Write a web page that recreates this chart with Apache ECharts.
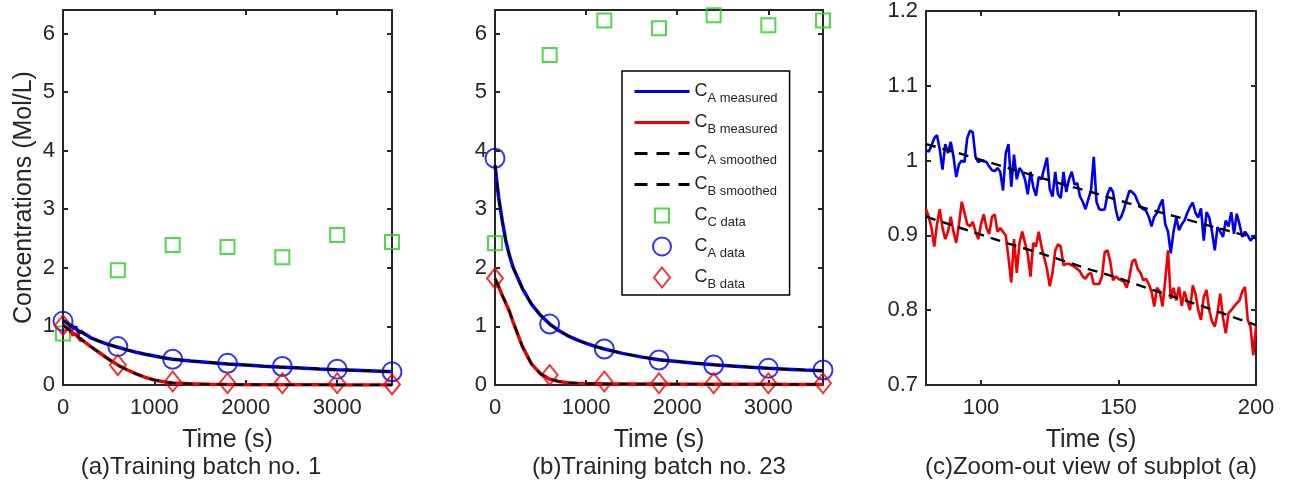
<!DOCTYPE html>
<html><head><meta charset="utf-8">
<script src="https://cdn.jsdelivr.net/npm/echarts@6/dist/echarts.min.js"></script>
<style>html,body{margin:0;padding:0;background:#fff}#c{width:1298px;height:488px}</style>
</head><body><div id="c"></div>
<script>
// ---- sample (marker) times ----
const tData = [0, 600, 1200, 1800, 2400, 3000, 3600];
// panel (a) markers
const ccDataA = [0.88, 1.96, 2.39, 2.355, 2.18, 2.56, 2.44];
const caDataA = [1.09, 0.655, 0.44, 0.37, 0.315, 0.27, 0.225];
const cbDataA = [1.02, 0.34, 0.06, 0.03, 0.03, 0.03, 0.01];
// panel (b) markers
const ccDataB = [2.42, 5.63, 6.22, 6.09, 6.31, 6.14, 6.22];
const caDataB = [3.87, 1.04, 0.614, 0.427, 0.341, 0.284, 0.256];
const cbDataB = [1.82, 0.17, 0.06, 0.03, 0.03, 0.03, 0.03];

// ---- curve times (coarse) ----
const tCurve = [0,40,80,120,160,200,300,400,500,600,700,800,900,1000,1100,1200,1400,1600,1800,2000,2200,2400,2600,2800,3000,3200,3400,3600];
const caSmoothA = [1.10,1.062,1.022,0.979,0.936,0.896,0.81,0.745,0.69,0.645,0.60,0.56,0.525,0.495,0.465,0.44,0.41,0.385,0.36,0.34,0.32,0.305,0.29,0.275,0.262,0.25,0.238,0.226];
const cbSmoothA = [1.02,0.975,0.925,0.878,0.830,0.780,0.66,0.55,0.44,0.34,0.26,0.19,0.13,0.085,0.055,0.035,0.02,0.012,0.008,0.006,0.005,0.004,0.003,0.003,0.002,0.002,0.001,0.001];
const caSmoothB = [3.75,3.2,2.8,2.45,2.2,2.0,1.65,1.38,1.19,1.04,0.93,0.84,0.77,0.71,0.66,0.615,0.54,0.48,0.43,0.40,0.37,0.345,0.325,0.305,0.285,0.27,0.255,0.245];
const cbSmoothB = [1.82,1.68,1.53,1.39,1.25,1.07,0.66,0.36,0.19,0.10,0.06,0.04,0.03,0.025,0.022,0.02,0.018,0.016,0.015,0.014,0.013,0.012,0.012,0.011,0.011,0.01,0.01,0.01];

// ---- zoomed measured data (panel c), 1 s steps ----
const tZoom = [80,81,82,83,84,85,86,87,88,89,90,91,92,93,94,95,96,97,98,99,100,101,102,103,104,105,106,107,108,109,110,111,112,113,114,115,116,117,118,119,120,121,122,123,124,125,126,127,128,129,130,131,132,133,134,135,136,137,138,139,140,141,142,143,144,145,146,147,148,149,150,151,152,153,154,155,156,157,158,159,160,161,162,163,164,165,166,167,168,169,170,171,172,173,174,175,176,177,178,179,180,181,182,183,184,185,186,187,188,189,190,191,192,193,194,195,196,197,198,199,200];
const caMeasZoom = [1.014,1.012,1.020,1.030,1.034,1.015,0.988,1.022,1.010,1.025,1.005,0.978,0.995,1.000,0.998,1.030,1.040,1.038,1.005,0.998,1.000,0.999,0.998,0.992,0.987,0.986,0.990,0.985,0.960,1.010,1.022,0.965,1.008,0.975,0.990,0.985,0.975,0.955,0.985,0.965,0.953,0.978,0.975,0.990,1.004,0.962,0.952,0.985,0.955,0.950,0.985,0.958,0.975,0.985,0.968,0.970,0.952,0.945,0.935,0.948,0.960,1.005,0.945,0.935,0.934,0.935,0.955,0.964,0.958,0.935,0.920,0.925,0.935,0.948,0.960,0.958,0.954,0.945,0.938,0.935,0.933,0.925,0.912,0.925,0.930,0.940,0.948,0.915,0.905,0.876,0.905,0.924,0.907,0.915,0.920,0.930,0.938,0.944,0.930,0.924,0.936,0.893,0.931,0.924,0.905,0.880,0.911,0.905,0.898,0.920,0.912,0.931,0.902,0.929,0.915,0.898,0.905,0.900,0.893,0.898,0.900];
const cbMeasZoom = [0.935,0.925,0.910,0.885,0.915,0.935,0.910,0.895,0.905,0.925,0.905,0.890,0.915,0.945,0.930,0.915,0.912,0.918,0.905,0.895,0.915,0.928,0.910,0.902,0.925,0.928,0.905,0.910,0.905,0.900,0.870,0.837,0.895,0.850,0.890,0.905,0.890,0.875,0.845,0.890,0.885,0.905,0.885,0.870,0.855,0.832,0.850,0.880,0.888,0.885,0.860,0.862,0.862,0.860,0.858,0.855,0.852,0.845,0.842,0.848,0.850,0.835,0.835,0.835,0.845,0.878,0.880,0.865,0.840,0.845,0.842,0.840,0.838,0.830,0.845,0.865,0.868,0.855,0.850,0.840,0.842,0.835,0.825,0.805,0.830,0.825,0.805,0.840,0.880,0.815,0.830,0.813,0.831,0.806,0.825,0.812,0.800,0.833,0.822,0.800,0.787,0.818,0.827,0.800,0.785,0.778,0.796,0.822,0.790,0.769,0.796,0.800,0.805,0.809,0.813,0.825,0.831,0.787,0.778,0.740,0.778];
const tZoomSmooth = [80,90,100,110,120,130,140,150,160,170,180,190,200];
const caSmoothZoom = [1.022,1.012,1.001,0.990,0.979,0.968,0.958,0.947,0.936,0.926,0.916,0.906,0.896];
const cbSmoothZoom = [0.925,0.913,0.901,0.889,0.878,0.866,0.854,0.843,0.830,0.818,0.806,0.793,0.780];

// ---- axis ticks ----
const xTicksAB = [0, 1000, 2000, 3000];
const yTicksAB = [0, 1, 2, 3, 4, 5, 6];
const xTicksC = [100, 150, 200];
const yTicksC = [0.7, 0.8, 0.9, 1, 1.1, 1.2];

// ---- legend names ----
const names = ['CA measured','CB measured','CA smoothed','CB smoothed','CC data','CA data','CB data'];
const legendSub = {'CA measured':'A measured','CB measured':'B measured','CA smoothed':'A smoothed','CB smoothed':'B smoothed','CC data':'C data','CA data':'A data','CB data':'B data'};

const BLUE = '#0000f0', RED = '#f00000', GREEN = '#1ed21e', AX = '#262626';
const FONT = 'Liberation Sans, Arial, Helvetica, sans-serif';
const DASH = [10, 7];

function zip(xs, ys) { return xs.map((x, i) => [x, ys[i]]); }
// measured curve for panel (a) = coarse start + zoomed noisy data + coarse tail
function joinA(coarseT, coarseV, zt, zv) {
  const out = [];
  coarseT.forEach((t, i) => { if (t < zt[0]) out.push([t, coarseV[i]]); });
  zt.forEach((t, i) => out.push([t, zv[i]]));
  coarseT.forEach((t, i) => { if (t > zt[zt.length - 1]) out.push([t, coarseV[i]]); });
  return out;
}

const grids = [
  {left: 63, top: 10, width: 329, height: 375},
  {left: 495, top: 10, width: 328, height: 375},
  {left: 926, top: 10, width: 330, height: 375}
];

const fmt = v => String(v);
function xAxes(gi, min, max, ticks) {
  return [
    {type: 'value', gridIndex: gi, min, max, position: 'bottom',
     name: 'Time (s)', nameLocation: 'middle', nameGap: 43,
     nameTextStyle: {fontFamily: FONT, fontSize: 25, color: AX},
     axisLine: {show: true, onZero: false, lineStyle: {color: AX, width: 2}},
     axisTick: {show: true, inside: true, length: 5, lineStyle: {color: AX, width: 2}, customValues: ticks},
     axisLabel: {show: true, margin: 12, fontFamily: FONT, fontSize: 22, color: AX, customValues: ticks, formatter: fmt},
     splitLine: {show: false}},
    {type: 'value', gridIndex: gi, min, max, position: 'top',
     axisLine: {show: true, onZero: false, lineStyle: {color: AX, width: 2}},
     axisTick: {show: true, inside: true, length: 5, lineStyle: {color: AX, width: 2}, customValues: ticks},
     axisLabel: {show: false}, splitLine: {show: false}}
  ];
}
function yAxes(gi, min, max, ticks, withName) {
  return [
    {type: 'value', gridIndex: gi, min, max, position: 'left',
     name: withName ? 'Concentrations (Mol/L)' : '', nameLocation: 'middle', nameGap: 26,
     nameTextStyle: {fontFamily: FONT, fontSize: 25, color: AX},
     axisLine: {show: true, onZero: false, lineStyle: {color: AX, width: 2}},
     axisTick: {show: true, inside: true, length: 5, lineStyle: {color: AX, width: 2}, customValues: ticks},
     axisLabel: {show: true, margin: 8, fontFamily: FONT, fontSize: 22, color: AX, customValues: ticks, formatter: fmt},
     splitLine: {show: false}},
    {type: 'value', gridIndex: gi, min, max, position: 'right',
     axisLine: {show: true, onZero: false, lineStyle: {color: AX, width: 2}},
     axisTick: {show: true, inside: true, length: 5, lineStyle: {color: AX, width: 2}, customValues: ticks},
     axisLabel: {show: false}, splitLine: {show: false}}
  ];
}

const xAxis = [].concat(xAxes(0, 0, 3600, xTicksAB), xAxes(1, 0, 3600, xTicksAB), xAxes(2, 80, 200, xTicksC));
const yAxis = [].concat(yAxes(0, 0, 6.4, yTicksAB, true), yAxes(1, 0, 6.4, yTicksAB, false), yAxes(2, 0.7, 1.2, yTicksC, false));

function line(name, gi, data, color, width, dashed) {
  return {type: 'line', name, xAxisIndex: gi * 2, yAxisIndex: gi * 2, data,
    symbol: 'none', showSymbol: false, smooth: false, animation: false, clip: true,
    lineStyle: {color, width, type: dashed ? DASH : 'solid'}, itemStyle: {color}};
}
function marks(name, gi, data, color, symbol, size) {
  return {type: 'scatter', name, xAxisIndex: gi * 2, yAxisIndex: gi * 2, data,
    symbol, symbolSize: size, animation: false,
    itemStyle: {color: 'rgba(0,0,0,0)', borderColor: color, borderWidth: 2}};
}

const series = [];
// panel (a)
series.push(line('CA measured', 0, joinA(tCurve, caSmoothA, tZoom, caMeasZoom), BLUE, 3.5));
series.push(line('CB measured', 0, joinA(tCurve, cbSmoothA, tZoom, cbMeasZoom), RED, 3.5));
series.push(line('CA smoothed', 0, zip(tCurve, caSmoothA), '#000', 2.2, true));
series.push(line('CB smoothed', 0, zip(tCurve, cbSmoothA), '#000', 2.2, true));
series.push(marks('CC data', 0, zip(tData, ccDataA), GREEN, 'rect', 14));
series.push(marks('CA data', 0, zip(tData, caDataA), BLUE, 'circle', 19));
series.push(marks('CB data', 0, zip(tData, cbDataA), RED, 'diamond', [16, 20]));
// panel (b)
series.push(line('CA measured', 1, zip(tCurve, caSmoothB), BLUE, 3.5));
series.push(line('CB measured', 1, zip(tCurve, cbSmoothB), RED, 3.5));
series.push(line('CA smoothed', 1, zip(tCurve, caSmoothB), '#000', 2.2, true));
series.push(line('CB smoothed', 1, zip(tCurve, cbSmoothB), '#000', 2.2, true));
series.push(marks('CC data', 1, zip(tData, ccDataB), GREEN, 'rect', 14));
series.push(marks('CA data', 1, zip(tData, caDataB), BLUE, 'circle', 19));
series.push(marks('CB data', 1, zip(tData, cbDataB), RED, 'diamond', [16, 20]));
// panel (c)
series.push(line('CA measured', 2, zip(tZoom, caMeasZoom), BLUE, 2.6));
series.push(line('CB measured', 2, zip(tZoom, cbMeasZoom), RED, 2.6));
series.push(line('CA smoothed', 2, zip(tZoomSmooth, caSmoothZoom), '#000', 2.4, true));
series.push(line('CB smoothed', 2, zip(tZoomSmooth, cbSmoothZoom), '#000', 2.4, true));

const captions = [
  {text: '(a)Training batch no. 1', x: 201},
  {text: '(b)Training batch no. 23', x: 659},
  {text: '(c)Zoom-out view of subplot (a)', x: 1091}
];

// legend entries: lines hide the auto symbol, markers keep their shape
const legendIcons = {
  'CC data': 'path://M-3,-3M0,0L14,0L14,14L0,14ZM17,17',
  'CA data': 'path://M0,9A9,9,0,1,1,18,9A9,9,0,1,1,0,9ZM0,-1M18,19',
  'CB data': 'path://M8,0L16,10L8,20L0,10Z'
};
const legendLine = {
  'CA measured': {width: 3, type: 'solid'},
  'CB measured': {width: 3, type: 'solid'},
  'CA smoothed': {width: 3, type: [13, 9]},
  'CB smoothed': {width: 3, type: [13, 9]}
};
const legendData = names.map(n => legendIcons[n]
  ? {name: n, icon: legendIcons[n]}
  : {name: n, itemStyle: {opacity: 0}, lineStyle: legendLine[n]});

const chart = echarts.init(document.getElementById('c'), null, {renderer: 'canvas'});
chart.setOption({
  animation: false,
  backgroundColor: '#fff',
  grid: grids,
  xAxis, yAxis, series,
  legend: {
    data: legendData, orient: 'vertical', left: 622, top: 71,
    backgroundColor: '#fff', borderColor: '#000', borderWidth: 1.5, borderRadius: 0,
    padding: [7, 12, 4, 11], itemGap: 4, itemWidth: 55, itemHeight: 20,
    selectedMode: false,
    formatter: n => '{c|C}{s|' + legendSub[n] + '}',
    textStyle: {
      fontFamily: FONT, color: AX,
      rich: {
        c: {fontFamily: FONT, fontSize: 18, lineHeight: 20, color: AX, verticalAlign: 'middle'},
        s: {fontFamily: FONT, fontSize: 13, lineHeight: 14, color: AX, verticalAlign: 'middle', padding: [14, 0, 0, 0]}
      }
    }
  },
  graphic: captions.map(c => ({type: 'text', x: c.x, y: 467, silent: true,
    style: {text: c.text, fontFamily: FONT, fontSize: 24, fill: AX, textAlign: 'center', textVerticalAlign: 'middle'}}))
});
</script>
</body></html>
